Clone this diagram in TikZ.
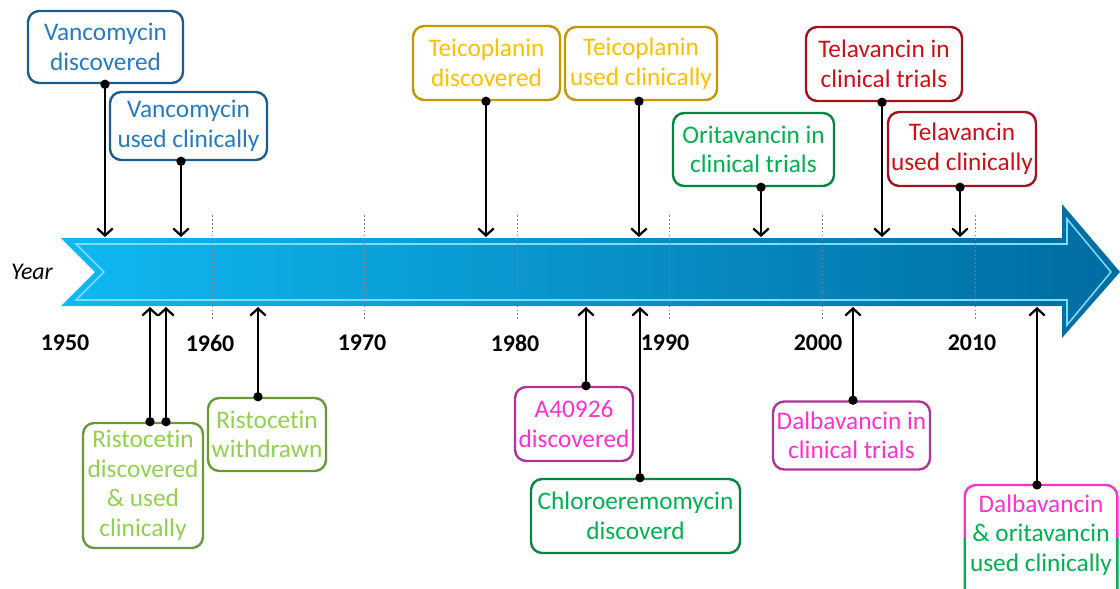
\documentclass[tikz,border=0pt]{standalone}
\usepackage{fontspec}
\setmainfont{Carlito}[Ligatures=NoCommon]
\usetikzlibrary{arrows.meta}

\definecolor{arrowlight}{RGB}{16,184,242}
\definecolor{arrowmid}{RGB}{0,156,218}
\definecolor{arrowdark}{RGB}{0,108,160}
\definecolor{arrowedge}{RGB}{125,220,252}
\definecolor{vancoline}{RGB}{28,92,142}
\definecolor{vancotext}{RGB}{40,122,192}
\definecolor{teicoline}{RGB}{196,150,0}
\definecolor{teicotext}{RGB}{255,192,0}
\definecolor{oritline}{RGB}{0,134,62}
\definecolor{orittext}{RGB}{0,176,80}
\definecolor{telaline}{RGB}{162,18,30}
\definecolor{telatext}{RGB}{204,16,24}
\definecolor{ristoline}{RGB}{104,152,56}
\definecolor{ristotext}{RGB}{146,208,80}
\definecolor{dalbline}{RGB}{176,52,156}
\definecolor{dalbtext}{RGB}{255,51,204}

\tikzset{
  box/.style={draw, rounded corners=8pt, line width=1.7pt, align=center,
    inner sep=0pt, fill=white, font=\fontsize{18}{21}\selectfont},
  vancobox/.style={box, draw=vancoline, text=vancotext},
  teicobox/.style={box, draw=teicoline, text=teicotext},
  oritbox/.style={box, draw=oritline, text=orittext},
  telabox/.style={box, draw=telaline, text=telatext},
  ristobox/.style={box, draw=ristoline, text=ristotext},
  dalbbox/.style={box, draw=dalbline, text=dalbtext},
  conn/.style={line width=1.6pt, {Circle[length=6.5pt]}-{Straight Barb[length=5pt,width=11pt]},
    shorten <=-3.2pt},
  gridline/.style={gray, line width=0.6pt, dash pattern=on 1.2pt off 1.6pt},
  yearlbl/.style={font=\fontsize{17}{20}\selectfont\bfseries}
}

\begin{document}
\begin{tikzpicture}[x=0.025cm, y=-0.025cm]
\useasboundingbox (0,0) rectangle (1120,588);

% Time arrow
\shade[left color=arrowlight, middle color=arrowmid, right color=arrowdark]
  (61,238) -- (1062,238) -- (1062,204) -- (1120,272) -- (1062,338)
  -- (1062,306) -- (61,306) -- (95,272) -- cycle;
\draw[arrowedge, line width=1.1pt]
  (76,244) -- (1067,244) -- (1067,219) -- (1111,272) -- (1067,325)
  -- (1067,300) -- (76,300) -- (104,272) -- cycle;

% Decades
\foreach \x in {212,364,517,669,822,975}
  \draw[gridline] (\x,215) -- (\x,320);
\foreach \x/\yr in {65/1950,210/1960,362/1970,515/1980,665/1990,818/2000,972/2010}
  \node[yearlbl] (y\yr) at (\x,343) {\yr};
\node[font=\fontsize{17}{20}\selectfont\itshape] (year) at (32,272) {Year};

% Events above the arrow
\node[vancobox, minimum width=3.875cm, minimum height=1.8cm] (vancodisc) at (105.5,47) {Vancomycin\\discovered};
\node[vancobox, minimum width=3.925cm, minimum height=1.7cm] (vancoused) at (188.5,126) {Vancomycin\\used clinically};
\node[teicobox, minimum width=3.675cm, minimum height=1.85cm] (teicodisc) at (486.5,63) {Teicoplanin\\discovered};
\node[teicobox, minimum width=3.8cm, minimum height=1.825cm] (teicoused) at (641,63.5) {Teicoplanin\\used clinically};
\node[oritbox, minimum width=4.025cm, minimum height=1.825cm] (orittrial) at (753.5,149.5) {Oritavancin in\\clinical trials};
\node[telabox, minimum width=3.9cm, minimum height=1.85cm] (telatrial) at (884,64) {Telavancin in\\clinical trials};
\node[telabox, minimum width=3.7cm, minimum height=1.85cm] (telaused) at (962,149) {Telavancin\\used clinically};

% Events below the arrow
\node[ristobox, minimum width=3cm, minimum height=3.125cm] (ristodisc) at (143,485.5) {Ristocetin\\discovered\\\& used\\clinically};
\node[ristobox, minimum width=2.95cm, minimum height=1.825cm] (ristowith) at (267,434.5) {Ristocetin\\withdrawn};
\node[dalbbox, minimum width=2.95cm, minimum height=1.85cm] (aforty) at (574,424) {A40926\\discovered};
\node[oritbox, minimum width=5.225cm, minimum height=1.85cm] (chlorodisc) at (635.5,516) {Chloroeremomycin\\discoverd};
\node[dalbbox, minimum width=3.925cm, minimum height=1.7cm] (dalbtrial) at (851.5,435.5) {Dalbavancin in\\clinical trials};

% Two-colour box
\node[minimum width=3.8cm, minimum height=3cm, anchor=north] (dalbori) at (1041,485) {};
\begin{scope}
\clip (950,470) rectangle (1130,538);
\draw[dalbtext, line width=1.7pt, rounded corners=8pt] (dalbori.north west) rectangle (dalbori.south east);
\end{scope}
\begin{scope}
\clip (950,538) rectangle (1130,620);
\draw[orittext, line width=1.7pt, rounded corners=8pt] (dalbori.north west) rectangle (dalbori.south east);
\end{scope}
\node[align=center, text=orittext, font=\fontsize{18}{21}\selectfont] (dalboritxt)
  at ([yshift=-1.25cm]dalbori.north) {{\color{dalbtext}Dalbavancin}\\\& oritavancin\\used clinically};

% Connectors
\foreach \n/\c/\x in {vancodisc/vd/105, vancoused/vu/181, teicodisc/td/486, teicoused/tu/639,
    orittrial/ot/761, telatrial/lt/882, telaused/lu/960} {
  \coordinate (\c-on) at (\x,237);
  \draw[conn] (\n.south -| \c-on) -- (\c-on);
}
\foreach \n/\c/\x in {ristodisc/ra/150, ristodisc/rb/166, ristowith/rw/258, aforty/af/586,
    chlorodisc/cd/640, dalbtrial/dt/853, dalbori/do/1037} {
  \coordinate (\c-on) at (\x,307);
  \draw[conn] (\n.north -| \c-on) -- (\c-on);
}

\end{tikzpicture}
\end{document}
